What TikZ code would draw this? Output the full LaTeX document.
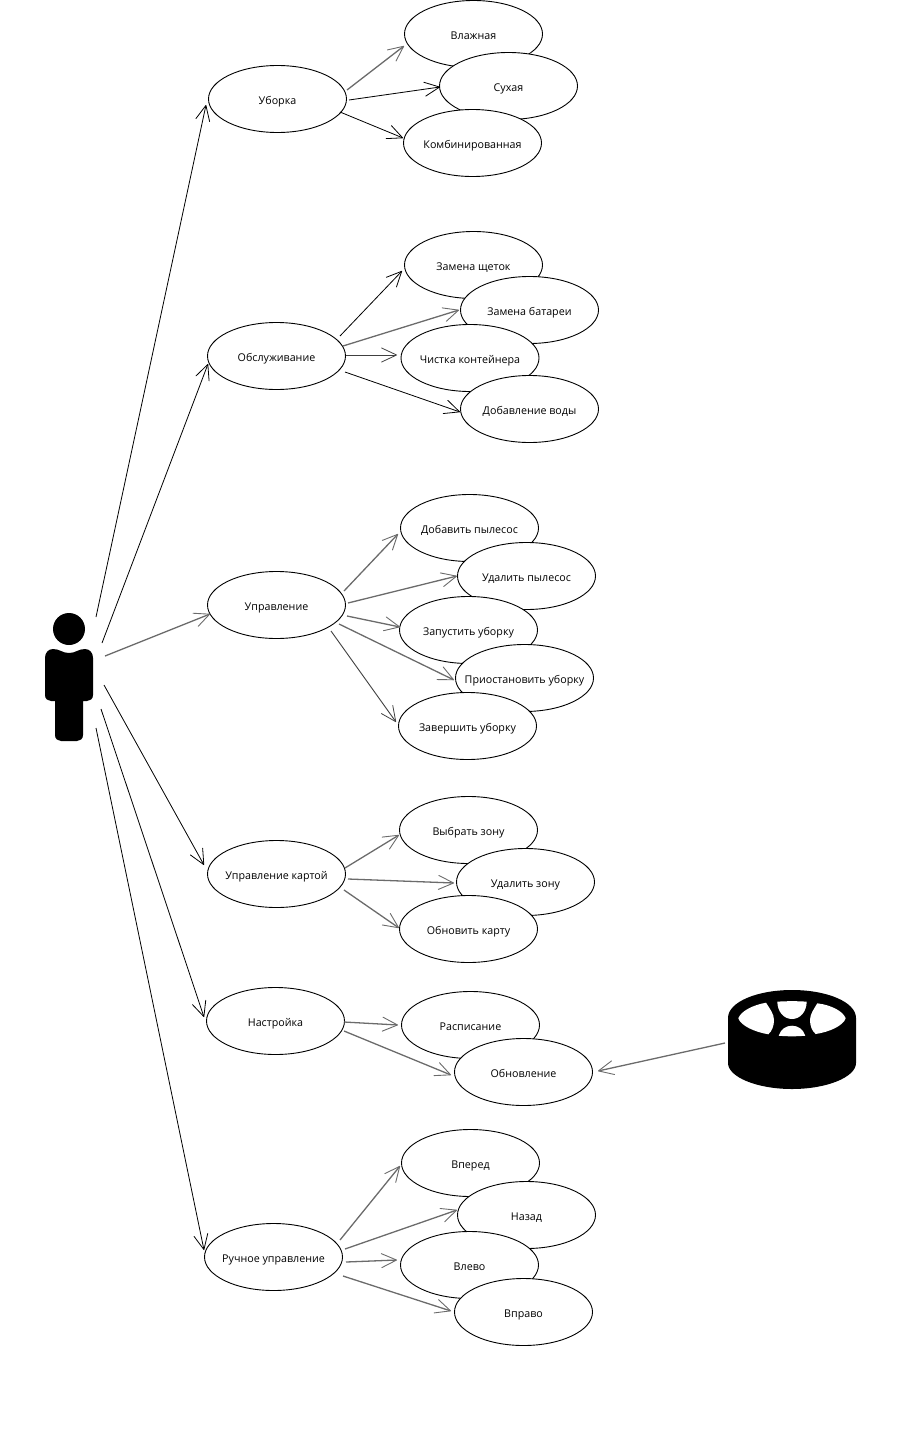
\documentclass[tikz,border=0pt]{standalone}
\usepackage{fontspec}
\setmainfont{Open Sans}
\usetikzlibrary{arrows.meta,calc,shapes.geometric}
\definecolor{lg}{gray}{0.42}
\tikzset{
  x=1pt,y=-1pt,
  uc/.style={draw=black,fill=white,ellipse,line width=0.9pt,minimum width=138pt,minimum height=67pt,inner xsep=-30pt,inner ysep=0pt,text height=12pt,text depth=1pt,font=\fontsize{10.7}{14}\selectfont,text=black},
  dk/.style={draw=black,line width=0.8pt,-{Straight Barb[round,length=15pt,width=14pt,line width=0.8pt]}},
  gr/.style={draw=lg,line width=1.3pt,-{Straight Barb[round,length=15pt,width=14pt,line width=0.9pt]}},
  md/.style={draw=black!75,line width=0.9pt,-{Straight Barb[round,length=15pt,width=14pt,line width=0.8pt]}},
  anchorbox/.style={inner sep=0pt,minimum size=1pt}
}
\newcommand{\conn}[7]{\draw[#1] ($(#2)+(#3,#4)$) -- ($(#5)+(#6,#7)$);}
\begin{document}
\begin{tikzpicture}
\useasboundingbox (0,0) rectangle (901,1445);
% actor
\fill (69,629) circle (16);
\fill (53,649) .. controls (60,649) and (62,653) .. (69,653) .. controls (76,653) and (78,649) .. (85,649)
  .. controls (90,649) and (93,653) .. (93,658) -- (93,695) .. controls (93,699) and (90,701) .. (87,701)
  -- (83,701) -- (83,735) .. controls (83,739) and (80,741) .. (77,741) -- (61,741) .. controls (58,741) and (55,739) .. (55,735)
  -- (55,701) -- (51,701) .. controls (48,701) and (45,699) .. (45,695) -- (45,658) .. controls (45,653) and (48,649) .. (53,649) -- cycle;
\node[anchorbox] (actor) at (69,677) {};
% wheel
\fill (728,1018) .. controls (728,1002) and (757,990) .. (792,990) .. controls (827,990) and (856,1002) .. (856,1018)
  -- (856,1063) .. controls (856,1077) and (827,1089) .. (792,1089) .. controls (757,1089) and (728,1077) .. (728,1063) -- cycle;
\fill[white] (738.3,1018.3) .. controls (741,1011) and (753,1005) .. (766,1002.7) .. controls (770,1009) and (774,1014) .. (774,1020)
  .. controls (774,1026) and (772,1031) .. (768.3,1034.3) .. controls (755,1032) and (741,1026) .. (738.3,1018.3) -- cycle;
\fill[white] (845.7,1018.3) .. controls (843,1011) and (831,1005) .. (817.3,1003.3) .. controls (814,1009) and (810,1014) .. (810,1020)
  .. controls (810,1026) and (812,1031) .. (815.7,1034) .. controls (829,1032) and (843,1026) .. (845.7,1018.3) -- cycle;
\fill[white] (777.3,1001.7) .. controls (786,1001) and (798,1001) .. (806.7,1001.7) .. controls (806.5,1012) and (800,1019) .. (792,1019)
  .. controls (784,1019) and (777.5,1012) .. (777.3,1001.7) -- cycle;
\fill[white] (778.7,1035.7) .. controls (781,1029) and (786,1025.7) .. (792,1025.7) .. controls (798,1025.7) and (803,1029) .. (805.3,1035.7)
  .. controls (797,1036.5) and (787,1036.5) .. (778.7,1035.7) -- cycle;
\node[anchorbox] (wheel) at (792,1040) {};
% main use cases
\node[uc] (ub) at (277.5,99) {Уборка};
\node[uc] (ob) at (276.5,356) {Обслуживание};
\node[uc] (up) at (276.5,605) {Управление};
\node[uc] (uk) at (276.5,874) {Управление картой};
\node[uc] (na) at (275.5,1021) {Настройка};
\node[uc] (ru) at (273.5,1257) {Ручное управление};
% sub use cases
\node[uc] (a1) at (473.5,34) {Влажная};
\node[uc] (a2) at (508.5,86) {Сухая};
\node[uc] (a3) at (472.5,143) {Комбинированная};
\node[uc] (b1) at (473.5,265) {Замена щеток};
\node[uc] (b2) at (529.5,310) {Замена батареи};
\node[uc] (b3) at (470,358) {Чистка контейнера};
\node[uc] (b4) at (529.5,409) {Добавление воды};
\node[uc] (c1) at (469.5,528) {Добавить пылесос};
\node[uc] (c2) at (526.5,576) {Удалить пылесос};
\node[uc] (c3) at (468.5,630) {Запустить уборку};
\node[uc] (c4) at (524.5,678) {Приостановить уборку};
\node[uc] (c5) at (467.5,726) {Завершить уборку};
\node[uc] (d1) at (468.5,830) {Выбрать зону};
\node[uc] (d2) at (525.5,882) {Удалить зону};
\node[uc] (d3) at (468.5,929) {Обновить карту};
\node[uc] (e1) at (470.5,1025) {Расписание};
\node[uc] (e2) at (523.5,1072) {Обновление};
\node[uc] (f1) at (470.5,1163) {Вперед};
\node[uc] (f2) at (526.5,1215) {Назад};
\node[uc] (f3) at (469.5,1265) {Влево};
\node[uc] (f4) at (523.5,1312) {Вправо};
% actor connectors
\conn{dk}{actor}{27}{-60}{ub}{-71.5}{6}
\conn{dk}{actor}{33}{-34}{ob}{-68.5}{8}
\conn{gr}{actor}{36}{-21}{up}{-66.5}{9}
\conn{dk}{actor}{35}{8}{uk}{-72.5}{-9}
\conn{dk}{actor}{32}{32}{na}{-71.5}{-4}
\conn{dk}{actor}{27}{51}{ru}{-69.5}{-7}
% uborka
\conn{gr}{ub}{69.5}{-9}{a1}{-69.5}{12}
\conn{dk}{ub}{71.5}{1}{a2}{-68.5}{1}
\conn{dk}{ub}{62.5}{13}{a3}{-69.5}{-5}
% obsl
\conn{dk}{ob}{63.5}{-20}{b1}{-71.5}{6}
\conn{gr}{ob}{66.5}{-10}{b2}{-70.5}{0}
\conn{md}{ob}{69.5}{-1}{b3}{-73}{-3}
\conn{dk}{ob}{68.5}{16}{b4}{-69.5}{3}
% upr
\conn{gr}{up}{67.5}{-14}{c1}{-71.5}{6}
\conn{gr}{up}{71.5}{-2}{c2}{-69.5}{0}
\conn{gr}{up}{70.5}{11}{c3}{-68.5}{-3}
\conn{gr}{up}{62.5}{19}{c4}{-70.5}{2}
\conn{md}{up}{54.5}{26}{c5}{-71.5}{-4}
% karta
\conn{gr}{uk}{68.5}{-6}{d1}{-69.5}{5}
\conn{gr}{uk}{71.5}{5}{d2}{-71.5}{1}
\conn{gr}{uk}{67.5}{16}{d3}{-69.5}{-1}
% nastr
\conn{gr}{na}{68.5}{1}{e1}{-72.5}{0}
\conn{gr}{na}{68.5}{10}{e2}{-72.5}{3}
% wheel
\conn{gr}{wheel}{-67}{3}{e2}{74.5}{-1}
% ruchn
\conn{gr}{ru}{66.5}{-17}{f1}{-70.5}{3}
\conn{gr}{ru}{71.5}{-8}{f2}{-69.5}{-5}
\conn{gr}{ru}{72.5}{5}{f3}{-72.5}{-5}
\conn{gr}{ru}{69.5}{19}{f4}{-72.5}{-1}
\end{tikzpicture}
\end{document}
